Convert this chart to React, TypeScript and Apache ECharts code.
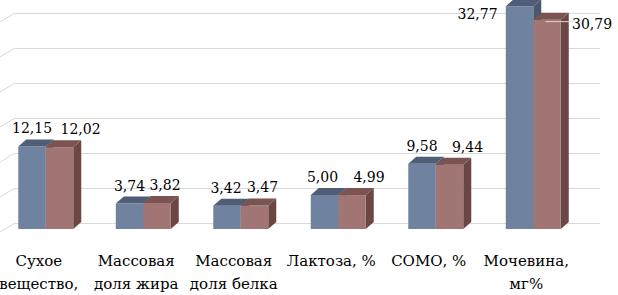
import { useEffect, useRef } from "react";
import * as echarts from "echarts";

const categories = [
  "Сухое\nвещество,",
  "Массовая\nдоля жира",
  "Массовая\nдоля белка",
  "Лактоза, %",
  "СОМО, %",
  "Мочевина,\nмг%",
];
const seriesA = [12.15, 3.74, 3.42, 5.0, 9.58, 32.77];
const seriesB = [12.02, 3.82, 3.47, 4.99, 9.44, 30.79];
const gridTicks = [0, 5, 10, 15, 20, 25, 30];

// label nudges (style only): [dx, dy] relative to default position above the bar
const nudgeA = [[0, 0], [0, 0], [-1, 0], [-2, 0], [0, 0], [-42, 26]];
const nudgeB = [[21, 0], [8, 0], [8, 0], [17, 0], [18, 0], [45, 22]];
const leaderB = [false, false, false, false, false, true];

const FONT = "DejaVu Serif";
const FSIZE = 15;
const LSIZE = 14;

const colorsA = { front: "#6f83a0", top: "#4f5e76", side: "#4a586e" };
const colorsB = { front: "#a07573", top: "#7b5451", side: "#6a4745" };

const fmt = (v: number) => v.toFixed(2).replace(".", ",");

function barSeries(k: number, values: number[], colors: any, nudge: number[][], leader: boolean[]) {
  return {
    type: "custom",
    name: k === 0 ? "Серия 1" : "Серия 2",
    xAxisIndex: 1,
    yAxisIndex: 1,
    clip: false,
    data: values.map((v, i) => [i, v]),
    renderItem: (params: any, api: any) => {
      const i = api.value(0);
      const v = api.value(1);
      const band = api.size([1, 0])[0];
      const w = band * 0.282;
      const base = api.coord([i, 0]);
      const c = base[0] + band * 0.072;
      const x0 = k === 0 ? c - w : c;
      const x1 = x0 + w;
      const yb = base[1];
      const yt = api.coord([i, v])[1];
      const dx = 8;
      const dy = 7;
      const nd = nudge[i];
      const lx = (x0 + x1) / 2 + nd[0];
      const ly = yt - 18 + nd[1];
      const children: any[] = [
        {
          type: "polygon",
          shape: { points: [[x1, yt], [x1 + dx, yt - dy], [x1 + dx, yb - dy], [x1, yb]] },
          style: { fill: colors.side },
        },
        {
          type: "rect",
          shape: { x: x0, y: yt, width: w, height: yb - yt },
          style: { fill: colors.front },
        },
        {
          type: "polygon",
          shape: { points: [[x0, yt], [x0 + dx, yt - dy], [x1 + dx, yt - dy], [x1, yt]] },
          style: { fill: colors.top },
        },
      ];
      if (leader[i]) {
        children.push({
          type: "line",
          shape: { x1: x0 + w * 0.45, y1: ly - 2, x2: lx - 19, y2: ly - 2 },
          style: { stroke: "#d9d9d9", lineWidth: 1 },
        });
      }
      children.push({
        type: "text",
        style: {
          text: fmt(v),
          x: lx,
          y: ly,
          fill: "#000",
          fontSize: LSIZE,
          fontFamily: FONT,
          align: "center",
          verticalAlign: "middle",
        },
      });
      return { type: "group", children };
    },
  };
}

export default function App() {
  const ref = useRef<HTMLDivElement>(null);
  useEffect(() => {
    if (!ref.current) return;
    const chart = echarts.init(ref.current, null, { renderer: "svg" });
    chart.setOption({
      animation: false,
      backgroundColor: "#ffffff",
      textStyle: { fontFamily: FONT },
      grid: [
        { left: 25, top: 13, width: 585, height: 210 },
        { left: 0, top: 25, width: 585, height: 210 },
      ],
      xAxis: [
        { gridIndex: 0, type: "category", data: categories, show: false },
        {
          gridIndex: 1,
          type: "category",
          data: categories,
          axisLine: { show: false },
          axisTick: { show: false },
          axisLabel: {
            interval: 0,
            margin: 20,
            fontSize: FSIZE,
            lineHeight: 23,
            color: "#000",
            fontFamily: FONT,
          },
        },
      ],
      yAxis: [
        {
          gridIndex: 0,
          type: "value",
          min: 0,
          max: 30,
          interval: 5,
          axisLabel: { show: false },
          axisLine: { show: false },
          axisTick: { show: false },
          splitLine: { lineStyle: { color: "#d9d9d9", width: 1 } },
        },
        { gridIndex: 1, type: "value", min: 0, max: 30, interval: 5, show: false },
      ],
      series: [
        {
          type: "custom",
          xAxisIndex: 0,
          yAxisIndex: 0,
          silent: true,
          data: gridTicks.map((t) => [0, t]),
          renderItem: (params: any, api: any) => {
            const y = api.coord([0, api.value(1)])[1];
            const x = params.coordSys.x;
            return {
              type: "line",
              shape: { x1: x, y1: y, x2: x - 15, y2: y + 9 },
              style: { stroke: "#d9d9d9", lineWidth: 1 },
            };
          },
        },
        barSeries(0, seriesA, colorsA, nudgeA, leaderB.map(() => false)),
        barSeries(1, seriesB, colorsB, nudgeB, leaderB),
      ],
    });
    return () => chart.dispose();
  }, []);
  return (
    <div
      ref={ref}
      style={{ position: "fixed", left: -10, top: 0, width: 628, height: 295, background: "#fff" }}
    />
  );
}
